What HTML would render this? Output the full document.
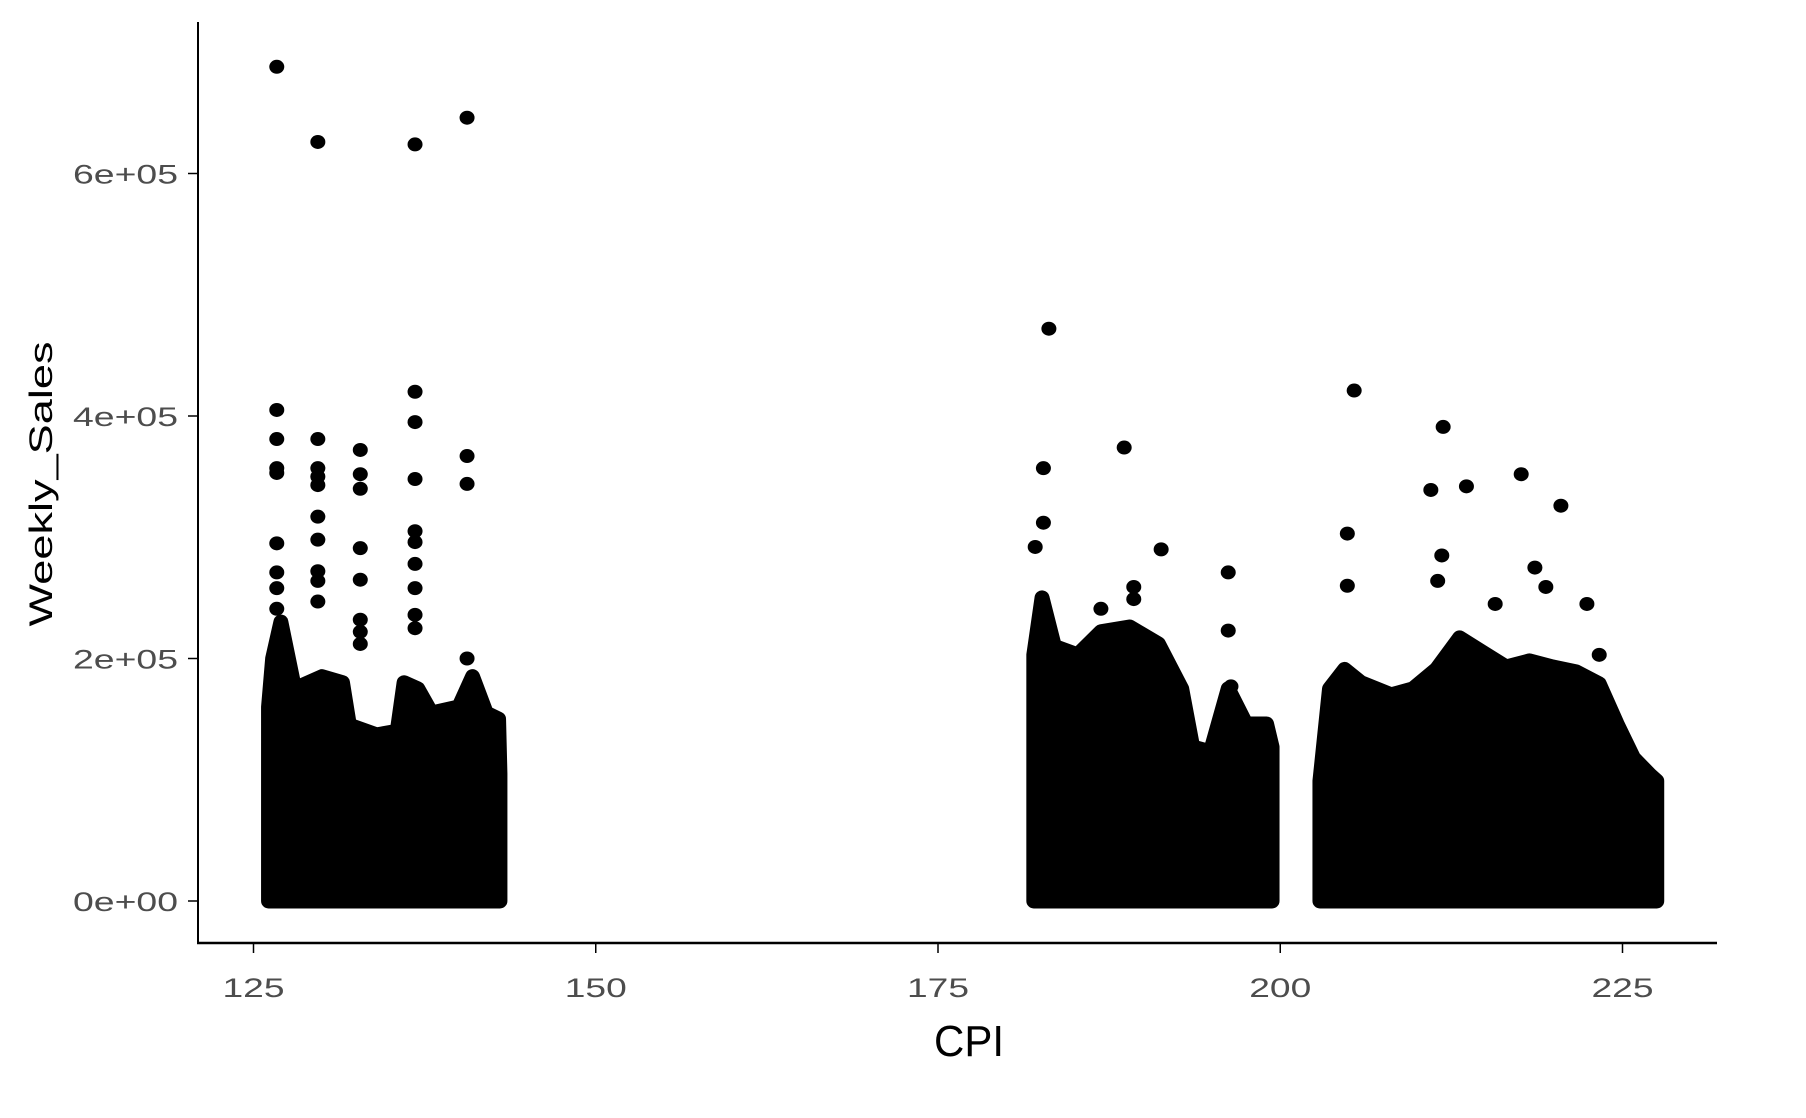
<!DOCTYPE html>
<html><head><meta charset="utf-8"><style>
html,body{margin:0;padding:0;background:#fff;}
svg{display:block;font-family:"Liberation Sans",Arial,sans-serif;}
</style></head><body>
<svg id="chart" width="1806" height="1118" viewBox="0 0 1806 1118" xmlns="http://www.w3.org/2000/svg">
<rect width="1806" height="1118" fill="#fff"/>
<g id="marks"></g>
<g id="axes"></g>
<text transform="translate(52,484) rotate(-90)" text-anchor="middle" font-size="32" textLength="285" lengthAdjust="spacingAndGlyphs" fill="#000">Weekly_Sales</text>
<text x="969" y="1056" text-anchor="middle" font-size="44" textLength="70" lengthAdjust="spacingAndGlyphs" fill="#000">CPI</text>
</svg>
<script>
// Data (Weekly_Sales in thousands)
const xTicks = [125, 150, 175, 200, 225];
const yTicks = [0, 200, 400, 600];
const yTickLabels = ["0e+00", "2e+05", "4e+05", "6e+05"];
// dense-cluster upper envelopes
const block1Cpi = [126.1,126.4,127,128,130,131.5,132,134,135.5,136,137,138,140,141,142,142.9,143.0];
const block1Top = [160,200,230,175,185,180,145,137,140,180,175,155,160,185,155,150,105];
const block2Cpi = [182.0,182.6,183.5,185.2,186.9,189,191.1,192.8,193.6,194.9,196.2,197.5,199.0,199.4];
const block2Top = [203,250,210,203,222,226,212,175,127,123,175,146,146,127];
const block3Cpi = [202.9,203.6,204.7,205.9,208.1,209.7,211.4,213.1,214.8,216.5,218.2,219.9,221.6,223.3,224.6,225.8,227.0,227.5];
const block3Top = [99,175,191,180,170,175,191,217,205,193,198,193,189,179,146,118,104,99];
// individual outliers
const outCpi = [126.7,129.7,136.8,140.6,
 126.7,126.7,126.7,126.7,126.7,126.7,126.7,126.7,
 129.7,129.7,129.7,129.7,129.7,129.7,129.7,129.7,129.7,
 132.8,132.8,132.8,132.8,132.8,132.8,132.8,132.8,
 136.8,136.8,136.8,136.8,136.8,136.8,136.8,136.8,136.8,
 140.6,140.6,140.6,
 183.1,182.7,182.7,182.1,188.6,191.3,196.2,196.2,186.9,189.3,189.3,196.4,
 205.4,204.9,204.9,211.9,211.0,213.6,217.6,220.5,211.8,222.4,218.6,219.4,215.7,223.3,211.5];
const outSales = [688,626,624,646,
 405,381,357,353,295,271,258,241,
 381,357,350,343,317,298,272,264,247,
 372,352,340,291,265,232,222,212,
 420,395,348,305,296,278,258,236,225,
 367,344,200,
 472,357,312,292,374,290,271,223,241,259,249,177,
 421,303,260,391,339,342,352,326,285,245,275,259,245,203,264];

const NS = "http://www.w3.org/2000/svg";
function xs(c){ return 253.5 + (c - 125) * 13.69; }
function ys(v){ return 901 - v * 1.2125; }
const marks = document.getElementById('marks');
const axes = document.getElementById('axes');

function drawBlock(cpis, tops, idx){
  let d = "M" + xs(cpis[0]) + "," + ys(0);
  for (let i = 0; i < cpis.length; i++) d += " L" + xs(cpis[i]) + "," + ys(tops[i]);
  d += " L" + xs(cpis[cpis.length-1]) + "," + ys(0) + " Z";
  const p = document.createElementNS(NS, 'path');
  p.setAttribute('d', d);
  p.setAttribute('fill', '#000');
  p.setAttribute('stroke', '#000');
  p.setAttribute('stroke-width', '15');
  p.setAttribute('stroke-linejoin', 'round');
  
  
  marks.appendChild(p);
}
drawBlock(block1Cpi, block1Top, 1);
drawBlock(block2Cpi, block2Top, 2);
drawBlock(block3Cpi, block3Top, 3);

for (let i = 0; i < outCpi.length; i++){
  const e = document.createElementNS(NS, 'ellipse');
  e.setAttribute('cx', xs(outCpi[i]));
  e.setAttribute('cy', ys(outSales[i]));
  e.setAttribute('rx', 7.5);
  e.setAttribute('ry', 7);
  e.setAttribute('fill', '#000');
  
  
  marks.appendChild(e);
}

function line(x1,y1,x2,y2,w,name){
  const l = document.createElementNS(NS, 'line');
  l.setAttribute('x1', x1); l.setAttribute('y1', y1);
  l.setAttribute('x2', x2); l.setAttribute('y2', y2);
  l.setAttribute('stroke', '#000'); l.setAttribute('stroke-width', w);
  
  
  axes.appendChild(l);
}
line(198, 22, 198, 944, 2, 'y-axis-line');
line(197, 943, 1717, 943, 2.5, 'x-axis-line');

for (let i = 0; i < xTicks.length; i++){
  const x = xs(xTicks[i]);
  line(x, 943, x, 953, 1.5, 'x-tick');
  const t = document.createElementNS(NS, 'text');
  t.setAttribute('x', x); t.setAttribute('y', 997);
  t.setAttribute('text-anchor', 'middle');
  t.setAttribute('font-size', '27');
  t.setAttribute('textLength', '62');
  t.setAttribute('lengthAdjust', 'spacingAndGlyphs');
  t.setAttribute('fill', '#4d4d4d');
  
  
  t.textContent = String(xTicks[i]);
  axes.appendChild(t);
}
for (let i = 0; i < yTicks.length; i++){
  const y = ys(yTicks[i]);
  line(188, y, 198, y, 1.5, 'y-tick');
  const t = document.createElementNS(NS, 'text');
  t.setAttribute('x', 178); t.setAttribute('y', y + 10);
  t.setAttribute('text-anchor', 'end');
  t.setAttribute('font-size', '27');
  t.setAttribute('textLength', '105');
  t.setAttribute('lengthAdjust', 'spacingAndGlyphs');
  t.setAttribute('fill', '#4d4d4d');
  
  
  t.textContent = yTickLabels[i];
  axes.appendChild(t);
}
</script>
</body></html>
